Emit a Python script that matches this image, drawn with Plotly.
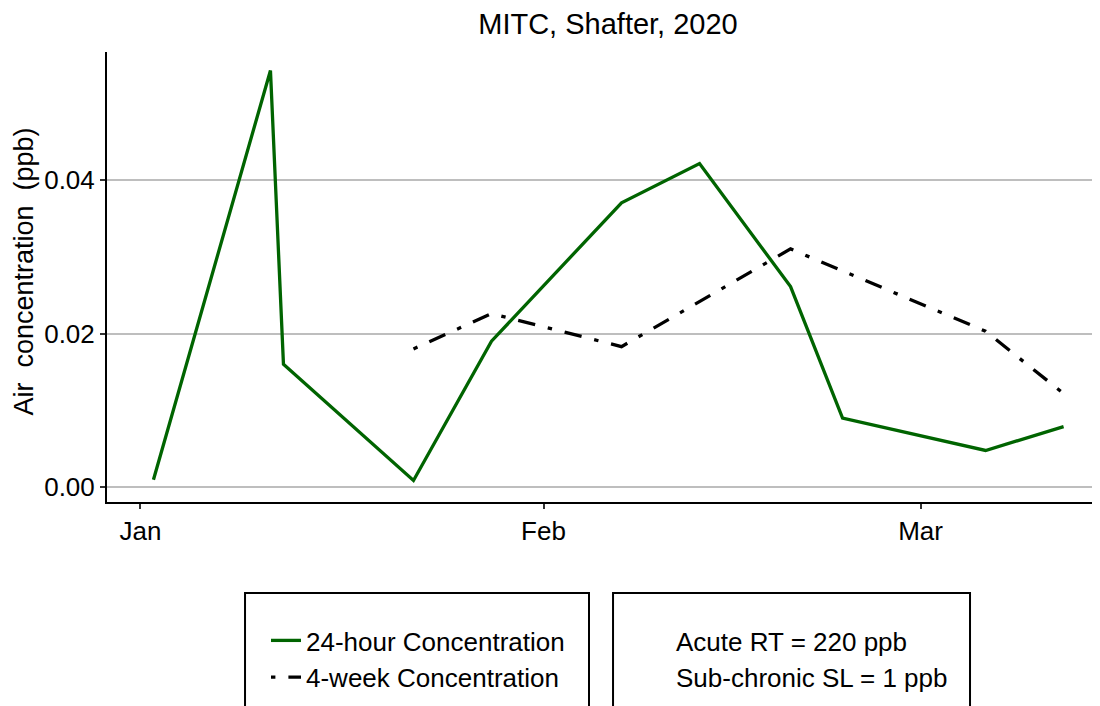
import plotly.graph_objects as go

# 24-hour samples
day_dates = ["2020-01-02", "2020-01-11", "2020-01-12", "2020-01-22", "2020-01-28", "2020-02-07",
             "2020-02-13", "2020-02-20", "2020-02-24", "2020-03-06", "2020-03-12"]
day_conc = [0.0010, 0.0542, 0.0160, 0.0009, 0.0190, 0.0370, 0.0421, 0.0261, 0.0090, 0.0048, 0.0079]

# 4-week rolling means
week_dates = ["2020-01-22", "2020-01-28", "2020-02-07", "2020-02-20", "2020-03-06", "2020-03-12"]
week_conc = [0.0180, 0.0226, 0.0183, 0.0310, 0.0203, 0.0122]

month_ticks = ["2020-01-01", "2020-02-01", "2020-03-01"]
month_labels = ["Jan", "Feb", "Mar"]
y_ticks = [0.0, 0.02, 0.04]

screening = ["Acute RT = 220 ppb", "Sub-chronic SL = 1 ppb"]

FONT = "Liberation Sans, Arial, sans-serif"
W, H = 1100, 706

fig = go.Figure()
fig.add_trace(go.Scatter(
    x=day_dates, y=day_conc, mode="lines", name="24-hour Concentration",
    line=dict(color="#006400", width=3.3), legend="legend",
))
fig.add_trace(go.Scatter(
    x=week_dates, y=week_conc, mode="lines", name="4-week Concentration",
    line=dict(color="black", width=3.3, dash="4.4px,13px,17.5px,13px"), legend="legend",
))
for label in screening:
    fig.add_trace(go.Scatter(
        x=[None], y=[None], mode="lines", name=label,
        line=dict(color="rgba(0,0,0,0)", width=1), legend="legend2",
    ))

# boxes round the two legends (they run off the bottom like the original)
for x0, x1 in [(0.1390, 0.4854), (0.5096, 0.8691)]:
    fig.add_shape(type="rect", xref="paper", yref="paper", x0=x0, x1=x1, y0=-0.56, y1=-0.2022,
                  line=dict(color="black", width=2), fillcolor="rgba(0,0,0,0)")

fig.add_annotation(
    text="Air\u00a0 concentration\u00a0 (ppb)", textangle=-90,
    xref="paper", yref="paper", x=-0.0836, y=0.512, xanchor="center", yanchor="middle",
    showarrow=False, font=dict(family=FONT, size=27, color="black"),
)

legend_style = dict(
    font=dict(family=FONT, size=26, color="black"),
    bgcolor="rgba(0,0,0,0)", borderwidth=0, itemwidth=30,
    xref="container", yref="container", xanchor="left", yanchor="top",
    tracegroupgap=0,
)

fig.update_layout(
    width=W, height=H,
    margin=dict(l=99, r=8, t=44, b=212, autoexpand=False),
    paper_bgcolor="white", plot_bgcolor="white",
    font=dict(family=FONT, size=26, color="black"),
    title=dict(text="MITC, Shafter, 2020", x=600 / W, xanchor="center", xref="container",
               y=1 - 16 / H, yanchor="middle", font=dict(size=29, color="black")),
    showlegend=True,
    legend=dict(x=258 / W, y=1 - 609 / H, **legend_style),
    legend2=dict(x=628 / W, y=1 - 609 / H, **legend_style),
    xaxis=dict(
        type="date", range=["2019-12-29 10:17", "2020-03-14 19:12"],
        tickvals=month_ticks, ticktext=month_labels,
        showgrid=False, zeroline=False,
        showline=True, linecolor="black", linewidth=2,
        ticks="outside", ticklen=5, tickwidth=2, tickcolor="#333333",
        tickfont=dict(size=26, color="black"), tickangle=0,
    ),
    yaxis=dict(
        range=[-0.0019, 0.0566],
        tickvals=y_ticks, tickformat=".2f",
        showgrid=True, gridcolor="#bebebe", gridwidth=2, zeroline=False,
        showline=True, linecolor="black", linewidth=2,
        ticks="outside", ticklen=5, tickwidth=2, tickcolor="#333333",
        tickfont=dict(size=26, color="black"),
    ),
)

fig.write_html("out.html")
